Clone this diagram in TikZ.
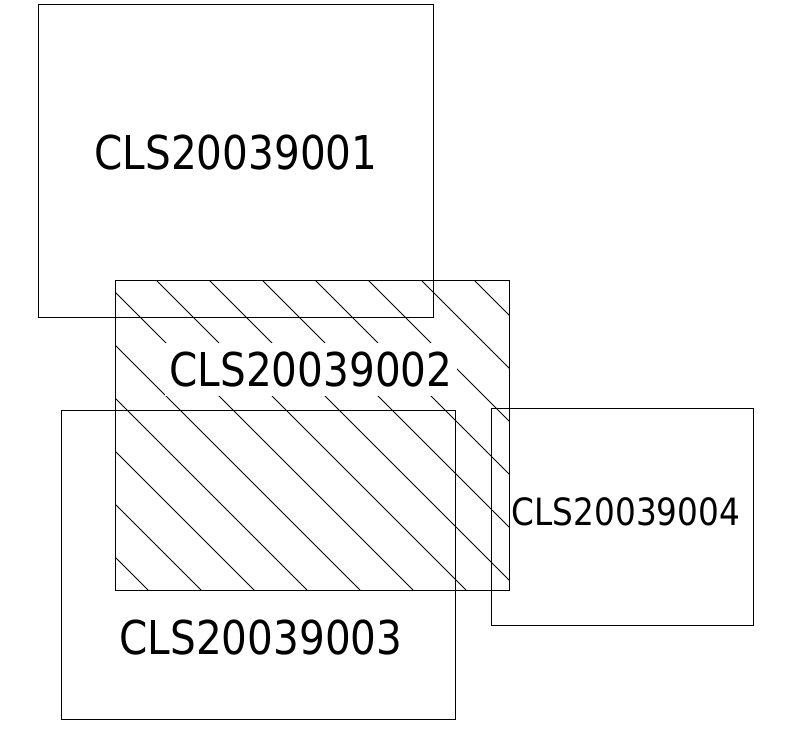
\documentclass[tikz,border=0pt]{standalone}
\usepackage{fontspec}
\setmainfont[FakeStretch=0.87]{DejaVu Sans}
\begin{document}
\begin{tikzpicture}[x=1pt,y=-1pt,
  box/.style={draw=black,line width=1pt,inner sep=0pt,fill=none},
  biglabel/.style={font=\fontsize{46.6}{50}\selectfont,inner sep=0pt,text depth=0pt},
  smalllabel/.style={font=\fontsize{37.6}{42}\selectfont,inner sep=0pt,text depth=0pt},
  hatch/.style={line width=0.8pt,black}]
\useasboundingbox (0,0) rectangle (809,730);
% hatching of box 2
\begin{scope}
  \clip (115,281) rectangle (509,590);
  \foreach \c in {-442,-389,...,240}{
    \draw[hatch] (\c+150,150) -- (\c+700,700);
  }
\end{scope}
% boxes
\node[box,minimum width=395pt,minimum height=312pt] (b1) at (235.5,161) {};
\node[box,minimum width=394pt,minimum height=309pt] (b2) at (312,435.5) {};
\node[box,minimum width=394pt,minimum height=309pt] (b3) at (258,564.5) {};
\node[box,minimum width=262pt,minimum height=217pt] (b4) at (622,516.5) {};
% labels
\node[biglabel] (t1) at (236,152) {CLS20039001};
\node[biglabel,fill=white,inner xsep=5pt,inner ysep=9.5pt] (t2) at (311,369.5) {CLS20039002};
\node[biglabel] (t3) at (261,637.5) {CLS20039003};
\node[smalllabel] (t4) at (626,512) {CLS20039004};
\end{tikzpicture}
\end{document}
